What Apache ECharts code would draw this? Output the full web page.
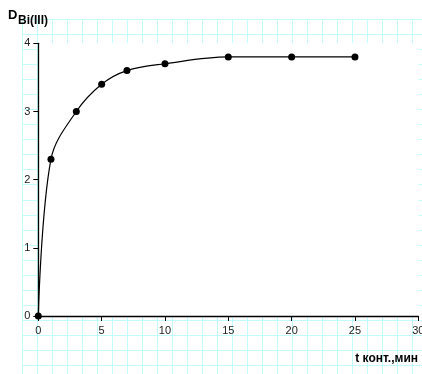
<!DOCTYPE html>
<html><head><meta charset="utf-8">
<script src="https://cdn.jsdelivr.net/npm/echarts@6/dist/echarts.min.js"></script>
<style>html,body{margin:0;padding:0;background:#fff}#c{width:422px;height:374px}</style>
</head><body><div id="c"></div>
<script>
// Data
const tValues = [0, 1, 3, 5, 7, 10, 15, 20, 25];
const dValues = [0, 2.3, 3.0, 3.4, 3.6, 3.7, 3.8, 3.8, 3.8];
const xTicks = [0, 5, 10, 15, 20, 25, 30];
const yTicks = [0, 1, 2, 3, 4];
const yTitleMain = 'D';
const yTitleSub = 'Bi(III)';
const xTitle = 't конт.,мин';

const chart = echarts.init(document.getElementById('c'), null, {renderer: 'canvas'});
const font = '"Liberation Sans", Arial, sans-serif';
const gridColor = '#c4fbfb';
const points = tValues.map((t, i) => [t, dValues[i]]);

chart.setOption({
  animation: false,
  backgroundColor: '#fff',
  title: [
    {text: yTitleMain, left: 8, top: 9, padding: 0, textStyle: {fontFamily: font, fontSize: 13, fontWeight: 'bold', color: '#000'}},
    {text: yTitleSub, left: 18, top: 15, padding: 0, textStyle: {fontFamily: font, fontSize: 12, fontWeight: 'bold', color: '#000'}},
    {text: xTitle, right: 4, top: 353, padding: 0, textStyle: {fontFamily: font, fontSize: 12, fontWeight: 'bold', color: '#000'}}
  ],
  grid: [
    {left: 22, top: 19.5, right: -5, bottom: -6, show: false, z: 0, containLabel: false, outerBoundsMode: 'none'},
    {left: 38.3, top: 43.3, right: 3.7, bottom: 58, show: true, backgroundColor: '#fff', borderWidth: 0, z: 1, containLabel: false, outerBoundsMode: 'none'}
  ],
  xAxis: [
    {gridIndex: 0, type: 'value', min: 0, max: 27, interval: 1, z: 0,
     axisLine: {show: false}, axisTick: {show: false}, axisLabel: {show: false},
     splitLine: {show: true, lineStyle: {color: gridColor, width: 1}}},
    {gridIndex: 1, type: 'value', min: 0, max: 30, interval: 5, z: 3,
     axisLine: {show: true, onZero: false, lineStyle: {color: '#000', width: 1.3}},
     axisTick: {show: true, inside: false, length: 5, lineStyle: {color: '#000', width: 1}},
     axisLabel: {show: true, margin: 9, fontFamily: font, fontSize: 11, color: '#222',
       formatter: v => xTicks.includes(v) ? String(v) : ''},
     splitLine: {show: false}}
  ],
  yAxis: [
    {gridIndex: 0, type: 'value', min: 0, max: 24, interval: 1, inverse: true, z: 0,
     axisLine: {show: false}, axisTick: {show: false}, axisLabel: {show: false},
     splitLine: {show: true, lineStyle: {color: gridColor, width: 1}}},
    {gridIndex: 1, type: 'value', min: 0, max: 4, interval: 1, z: 3,
     axisLine: {show: true, onZero: false, lineStyle: {color: '#000', width: 1.3}},
     axisTick: {show: true, inside: false, length: 5, lineStyle: {color: '#000', width: 1}},
     axisLabel: {show: true, margin: 8, fontFamily: font, fontSize: 11, color: '#222',
       formatter: v => yTicks.includes(v) ? String(v) : ''},
     splitLine: {show: false}}
  ],
  series: [{
    type: 'line', xAxisIndex: 1, yAxisIndex: 1, z: 4,
    data: points, smooth: 0.35,
    symbol: 'circle', symbolSize: 7,
    itemStyle: {color: '#000'},
    lineStyle: {color: '#000', width: 1.2}
  }]
});
</script></body></html>
